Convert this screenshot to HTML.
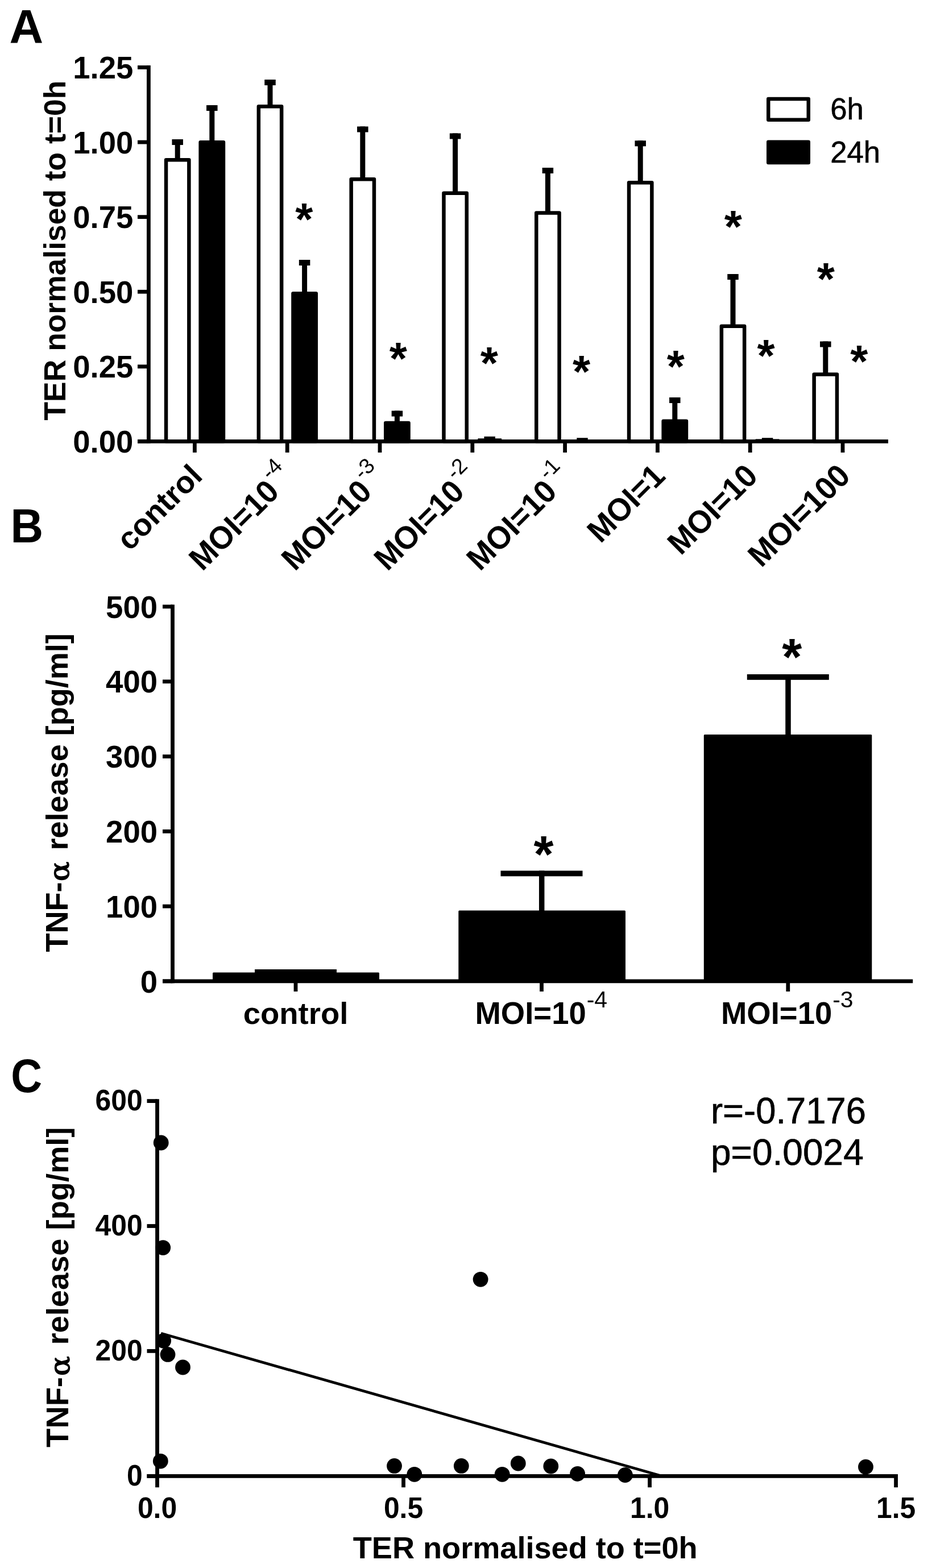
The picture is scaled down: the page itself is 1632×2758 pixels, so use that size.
<!DOCTYPE html>
<html lang="en">
<head>
<meta charset="utf-8">
<title>Figure: TER and TNF-alpha release</title>
<style>
html,body{margin:0;padding:0;background:#fff;}
body{width:1632px;height:2758px;overflow:hidden;}
svg{display:block;}
svg text{font-family:"Liberation Sans", sans-serif;fill:#000;}
</style>
</head>
<body>
<svg width="1632" height="2758" viewBox="0 0 1632 2758" role="img" aria-label="Three-panel figure: TER bar chart, TNF-alpha release bar chart, and correlation scatter plot">
<rect x="0" y="0" width="1632" height="2758" fill="#fff"/>
<text x="16.60" y="76.20" font-size="82.6" font-weight="bold" text-anchor="start">A</text>
<text x="0" y="0" transform="translate(115.30 440.60) rotate(-90) scale(0.98 1)" font-size="54.5" font-weight="bold" text-anchor="middle">TER normalised to t=0h</text>
<line x1="242.00" y1="776.30" x2="261.40" y2="776.30" stroke="#000" stroke-width="6.8" stroke-linecap="butt"/>
<text x="0" y="0" transform="translate(234.30 795.90) scale(1 1.03)" font-size="54.5" font-weight="bold" text-anchor="end">0.00</text>
<line x1="242.00" y1="644.74" x2="261.40" y2="644.74" stroke="#000" stroke-width="6.8" stroke-linecap="butt"/>
<text x="0" y="0" transform="translate(234.30 664.34) scale(1 1.03)" font-size="54.5" font-weight="bold" text-anchor="end">0.25</text>
<line x1="242.00" y1="513.18" x2="261.40" y2="513.18" stroke="#000" stroke-width="6.8" stroke-linecap="butt"/>
<text x="0" y="0" transform="translate(234.30 532.78) scale(1 1.03)" font-size="54.5" font-weight="bold" text-anchor="end">0.50</text>
<line x1="242.00" y1="381.62" x2="261.40" y2="381.62" stroke="#000" stroke-width="6.8" stroke-linecap="butt"/>
<text x="0" y="0" transform="translate(234.30 401.22) scale(1 1.03)" font-size="54.5" font-weight="bold" text-anchor="end">0.75</text>
<line x1="242.00" y1="250.06" x2="261.40" y2="250.06" stroke="#000" stroke-width="6.8" stroke-linecap="butt"/>
<text x="0" y="0" transform="translate(234.30 269.66) scale(1 1.03)" font-size="54.5" font-weight="bold" text-anchor="end">1.00</text>
<line x1="242.00" y1="118.50" x2="261.40" y2="118.50" stroke="#000" stroke-width="6.8" stroke-linecap="butt"/>
<text x="0" y="0" transform="translate(234.30 138.10) scale(1 1.03)" font-size="54.5" font-weight="bold" text-anchor="end">1.25</text>
<rect x="302.45" y="245.00" width="19.50" height="10.00" fill="#000"/>
<rect x="307.70" y="245.00" width="9.00" height="34.00" fill="#000"/>
<rect x="292.05" y="281.25" width="40.30" height="495.05" fill="#fff" stroke="#000" stroke-width="6.5" stroke-linejoin="round"/>
<rect x="363.05" y="185.00" width="19.50" height="10.00" fill="#000"/>
<rect x="368.30" y="185.00" width="9.00" height="63.00" fill="#000"/>
<rect x="352.65" y="250.25" width="40.30" height="526.05" fill="#000" stroke="#000" stroke-width="6.5" stroke-linejoin="round"/>
<rect x="465.25" y="140.00" width="19.50" height="10.00" fill="#000"/>
<rect x="470.50" y="140.00" width="9.00" height="45.00" fill="#000"/>
<rect x="454.85" y="187.25" width="40.30" height="589.05" fill="#fff" stroke="#000" stroke-width="6.5" stroke-linejoin="round"/>
<rect x="525.85" y="457.00" width="19.50" height="10.00" fill="#000"/>
<rect x="531.10" y="457.00" width="9.00" height="57.00" fill="#000"/>
<rect x="515.45" y="516.25" width="40.30" height="260.05" fill="#000" stroke="#000" stroke-width="6.5" stroke-linejoin="round"/>
<rect x="628.05" y="222.50" width="19.50" height="10.00" fill="#000"/>
<rect x="633.30" y="222.50" width="9.00" height="90.50" fill="#000"/>
<rect x="617.65" y="315.25" width="40.30" height="461.05" fill="#fff" stroke="#000" stroke-width="6.5" stroke-linejoin="round"/>
<rect x="688.65" y="722.50" width="19.50" height="10.00" fill="#000"/>
<rect x="693.90" y="722.50" width="9.00" height="19.30" fill="#000"/>
<rect x="678.25" y="744.05" width="40.30" height="32.25" fill="#000" stroke="#000" stroke-width="6.5" stroke-linejoin="round"/>
<rect x="790.85" y="234.50" width="19.50" height="10.00" fill="#000"/>
<rect x="796.10" y="234.50" width="9.00" height="103.00" fill="#000"/>
<rect x="780.45" y="339.75" width="40.30" height="436.55" fill="#fff" stroke="#000" stroke-width="6.5" stroke-linejoin="round"/>
<rect x="840.30" y="771.20" width="41.80" height="5.10" fill="#000"/>
<rect x="851.45" y="767.80" width="19.50" height="8.50" fill="#000"/>
<rect x="953.65" y="295.00" width="19.50" height="10.00" fill="#000"/>
<rect x="958.90" y="295.00" width="9.00" height="77.30" fill="#000"/>
<rect x="943.25" y="374.55" width="40.30" height="401.75" fill="#fff" stroke="#000" stroke-width="6.5" stroke-linejoin="round"/>
<rect x="1014.25" y="770.20" width="19.50" height="6.10" fill="#000"/>
<rect x="1116.45" y="247.30" width="19.50" height="10.00" fill="#000"/>
<rect x="1121.70" y="247.30" width="9.00" height="71.70" fill="#000"/>
<rect x="1106.05" y="321.25" width="40.30" height="455.05" fill="#fff" stroke="#000" stroke-width="6.5" stroke-linejoin="round"/>
<rect x="1177.05" y="699.00" width="19.50" height="10.00" fill="#000"/>
<rect x="1182.30" y="699.00" width="9.00" height="39.50" fill="#000"/>
<rect x="1166.65" y="740.75" width="40.30" height="35.55" fill="#000" stroke="#000" stroke-width="6.5" stroke-linejoin="round"/>
<rect x="1279.25" y="482.00" width="19.50" height="10.00" fill="#000"/>
<rect x="1284.50" y="482.00" width="9.00" height="89.50" fill="#000"/>
<rect x="1268.85" y="573.75" width="40.30" height="202.55" fill="#fff" stroke="#000" stroke-width="6.5" stroke-linejoin="round"/>
<rect x="1328.70" y="772.30" width="41.80" height="4.00" fill="#000"/>
<rect x="1339.85" y="770.20" width="19.50" height="6.10" fill="#000"/>
<rect x="1442.05" y="600.50" width="19.50" height="10.00" fill="#000"/>
<rect x="1447.30" y="600.50" width="9.00" height="55.80" fill="#000"/>
<rect x="1431.65" y="658.55" width="40.30" height="117.75" fill="#fff" stroke="#000" stroke-width="6.5" stroke-linejoin="round"/>
<line x1="261.40" y1="115.10" x2="261.40" y2="779.70" stroke="#000" stroke-width="6.8" stroke-linecap="butt"/>
<line x1="242.00" y1="776.30" x2="1562.00" y2="776.30" stroke="#000" stroke-width="6.8" stroke-linecap="butt"/>
<line x1="342.40" y1="776.30" x2="342.40" y2="796.00" stroke="#000" stroke-width="6.8" stroke-linecap="butt"/>
<line x1="505.20" y1="776.30" x2="505.20" y2="796.00" stroke="#000" stroke-width="6.8" stroke-linecap="butt"/>
<line x1="668.00" y1="776.30" x2="668.00" y2="796.00" stroke="#000" stroke-width="6.8" stroke-linecap="butt"/>
<line x1="830.80" y1="776.30" x2="830.80" y2="796.00" stroke="#000" stroke-width="6.8" stroke-linecap="butt"/>
<line x1="993.60" y1="776.30" x2="993.60" y2="796.00" stroke="#000" stroke-width="6.8" stroke-linecap="butt"/>
<line x1="1156.40" y1="776.30" x2="1156.40" y2="796.00" stroke="#000" stroke-width="6.8" stroke-linecap="butt"/>
<line x1="1319.20" y1="776.30" x2="1319.20" y2="796.00" stroke="#000" stroke-width="6.8" stroke-linecap="butt"/>
<line x1="1482.00" y1="776.30" x2="1482.00" y2="796.00" stroke="#000" stroke-width="6.8" stroke-linecap="butt"/>
<g transform="translate(358.70 840.20) rotate(-45)">
<text x="0" y="0" font-size="54.5" font-weight="bold" text-anchor="end" transform="scale(1 1)">control</text>
</g>
<g transform="translate(493.80 867.90) rotate(-45)">
<text x="0" y="0" font-size="54.5" font-weight="bold" text-anchor="end" transform="scale(1 1.03)">MOI=10</text>
<text x="2.3" y="-29.3" font-size="38" font-weight="normal" text-anchor="start">-4</text>
</g>
<g transform="translate(656.60 867.90) rotate(-45)">
<text x="0" y="0" font-size="54.5" font-weight="bold" text-anchor="end" transform="scale(1 1.03)">MOI=10</text>
<text x="2.3" y="-29.3" font-size="38" font-weight="normal" text-anchor="start">-3</text>
</g>
<g transform="translate(819.40 867.90) rotate(-45)">
<text x="0" y="0" font-size="54.5" font-weight="bold" text-anchor="end" transform="scale(1 1.03)">MOI=10</text>
<text x="2.3" y="-29.3" font-size="38" font-weight="normal" text-anchor="start">-2</text>
</g>
<g transform="translate(982.20 867.90) rotate(-45)">
<text x="0" y="0" font-size="54.5" font-weight="bold" text-anchor="end" transform="scale(1 1.03)">MOI=10</text>
<text x="2.3" y="-29.3" font-size="38" font-weight="normal" text-anchor="start">-1</text>
</g>
<g transform="translate(1172.70 840.20) rotate(-45)">
<text x="0" y="0" font-size="54.5" font-weight="bold" text-anchor="end" transform="scale(1 1.03)">MOI=1</text>
</g>
<g transform="translate(1335.50 840.20) rotate(-45)">
<text x="0" y="0" font-size="54.5" font-weight="bold" text-anchor="end" transform="scale(1 1.03)">MOI=10</text>
</g>
<g transform="translate(1498.30 840.20) rotate(-45)">
<text x="0" y="0" font-size="54.5" font-weight="bold" text-anchor="end" transform="scale(1 1.03)">MOI=100</text>
</g>
<text x="534.90" y="413.02" font-size="80" font-weight="bold" text-anchor="middle">*</text>
<text x="700.40" y="658.42" font-size="80" font-weight="bold" text-anchor="middle">*</text>
<text x="860.40" y="666.42" font-size="80" font-weight="bold" text-anchor="middle">*</text>
<text x="1022.50" y="680.52" font-size="80" font-weight="bold" text-anchor="middle">*</text>
<text x="1188.20" y="671.72" font-size="80" font-weight="bold" text-anchor="middle">*</text>
<text x="1289.40" y="426.32" font-size="80" font-weight="bold" text-anchor="middle">*</text>
<text x="1347.00" y="653.12" font-size="80" font-weight="bold" text-anchor="middle">*</text>
<text x="1452.40" y="518.32" font-size="80" font-weight="bold" text-anchor="middle">*</text>
<text x="1510.80" y="663.12" font-size="80" font-weight="bold" text-anchor="middle">*</text>
<rect x="1351.25" y="174.05" width="70.50" height="36.60" fill="#fff" stroke="#000" stroke-width="6.5" stroke-linejoin="round"/>
<rect x="1351.25" y="249.85" width="70.50" height="36.10" fill="#000" stroke="#000" stroke-width="6.5" stroke-linejoin="round"/>
<text x="0" y="0" transform="translate(1460.20 210.30) scale(0.985 1)" font-size="53.5" font-weight="normal" text-anchor="start" stroke="#000" stroke-width="0.6">6h</text>
<text x="0" y="0" transform="translate(1460.20 286.00) scale(0.985 1)" font-size="53.5" font-weight="normal" text-anchor="start" stroke="#000" stroke-width="0.6">24h</text>
<text x="0" y="0" transform="translate(18.60 954.00) scale(0.965 1)" font-size="82.6" font-weight="bold" text-anchor="start">B</text>
<g transform="translate(119.20 1674.60) rotate(-90)">
<text x="0" y="0" font-size="54.5" font-weight="bold" transform="scale(0.992 1.03)">TNF-</text>
<text x="0" y="0" font-size="51.2" font-weight="normal" stroke="#000" stroke-width="1.5" stroke-linejoin="round" transform="translate(124.50 1.6) scale(1 0.93)" style="font-family:'DejaVu Serif','Liberation Serif',serif">α</text>
<text x="0" y="0" font-size="54.5" font-weight="bold" transform="translate(179.00 0) scale(0.992 1)">release [pg/ml]</text>
</g>
<line x1="286.00" y1="1725.90" x2="303.50" y2="1725.90" stroke="#000" stroke-width="6.8" stroke-linecap="butt"/>
<text x="0" y="0" transform="translate(277.00 1745.50) scale(1 1.03)" font-size="54.5" font-weight="bold" text-anchor="end">0</text>
<line x1="286.00" y1="1594.12" x2="303.50" y2="1594.12" stroke="#000" stroke-width="6.8" stroke-linecap="butt"/>
<text x="0" y="0" transform="translate(277.00 1613.72) scale(1 1.03)" font-size="54.5" font-weight="bold" text-anchor="end">100</text>
<line x1="286.00" y1="1462.34" x2="303.50" y2="1462.34" stroke="#000" stroke-width="6.8" stroke-linecap="butt"/>
<text x="0" y="0" transform="translate(277.00 1481.94) scale(1 1.03)" font-size="54.5" font-weight="bold" text-anchor="end">200</text>
<line x1="286.00" y1="1330.56" x2="303.50" y2="1330.56" stroke="#000" stroke-width="6.8" stroke-linecap="butt"/>
<text x="0" y="0" transform="translate(277.00 1350.16) scale(1 1.03)" font-size="54.5" font-weight="bold" text-anchor="end">300</text>
<line x1="286.00" y1="1198.78" x2="303.50" y2="1198.78" stroke="#000" stroke-width="6.8" stroke-linecap="butt"/>
<text x="0" y="0" transform="translate(277.00 1218.38) scale(1 1.03)" font-size="54.5" font-weight="bold" text-anchor="end">400</text>
<line x1="286.00" y1="1067.00" x2="303.50" y2="1067.00" stroke="#000" stroke-width="6.8" stroke-linecap="butt"/>
<text x="0" y="0" transform="translate(277.00 1086.60) scale(1 1.03)" font-size="54.5" font-weight="bold" text-anchor="end">500</text>
<rect x="448.00" y="1705.00" width="144.00" height="9.80" fill="#000"/>
<rect x="515.45" y="1705.00" width="9.50" height="6.50" fill="#000"/>
<rect x="375.50" y="1712.00" width="290.00" height="13.90" fill="#000" stroke="#000" stroke-width="3" stroke-linejoin="round"/>
<line x1="520.00" y1="1725.90" x2="520.00" y2="1744.00" stroke="#000" stroke-width="6.8" stroke-linecap="butt"/>
<rect x="880.50" y="1531.50" width="144.00" height="9.80" fill="#000"/>
<rect x="947.95" y="1531.50" width="9.50" height="71.00" fill="#000"/>
<rect x="807.80" y="1603.00" width="290.70" height="122.90" fill="#000" stroke="#000" stroke-width="3" stroke-linejoin="round"/>
<line x1="952.50" y1="1725.90" x2="952.50" y2="1744.00" stroke="#000" stroke-width="6.8" stroke-linecap="butt"/>
<rect x="1313.80" y="1186.00" width="144.00" height="9.80" fill="#000"/>
<rect x="1381.25" y="1186.00" width="9.50" height="107.00" fill="#000"/>
<rect x="1239.30" y="1293.50" width="292.50" height="432.40" fill="#000" stroke="#000" stroke-width="3" stroke-linejoin="round"/>
<line x1="1385.80" y1="1725.90" x2="1385.80" y2="1744.00" stroke="#000" stroke-width="6.8" stroke-linecap="butt"/>
<line x1="303.50" y1="1063.60" x2="303.50" y2="1729.30" stroke="#000" stroke-width="6.8" stroke-linecap="butt"/>
<line x1="286.00" y1="1725.90" x2="1605.30" y2="1725.90" stroke="#000" stroke-width="6.8" stroke-linecap="butt"/>
<text x="520.00" y="1800.50" font-size="54.5" font-weight="bold" text-anchor="middle">control</text>
<g transform="translate(1030.80 1800.60) rotate(0)">
<text x="0" y="0" font-size="54.5" font-weight="bold" text-anchor="end" transform="scale(1 1.03)">MOI=10</text>
<text x="0.9" y="-29.0" font-size="41" font-weight="normal" text-anchor="start">-4</text>
</g>
<g transform="translate(1463.30 1800.60) rotate(0)">
<text x="0" y="0" font-size="54.5" font-weight="bold" text-anchor="end" transform="scale(1 1.03)">MOI=10</text>
<text x="0.9" y="-29.0" font-size="41" font-weight="normal" text-anchor="start">-3</text>
</g>
<text x="956.00" y="1534.31" font-size="90" font-weight="bold" text-anchor="middle">*</text>
<text x="1392.70" y="1187.31" font-size="90" font-weight="bold" text-anchor="middle">*</text>
<text x="0" y="0" transform="translate(19.30 1920.50) scale(0.92 1)" font-size="82.6" font-weight="bold" text-anchor="start">C</text>
<g transform="translate(120.20 2545.70) rotate(-90)">
<text x="0" y="0" font-size="54.5" font-weight="bold" transform="scale(0.996 1.03)">TNF-</text>
<text x="0" y="0" font-size="51.2" font-weight="normal" stroke="#000" stroke-width="1.5" stroke-linejoin="round" transform="translate(125.60 1.6) scale(1 0.93)" style="font-family:'DejaVu Serif','Liberation Serif',serif">α</text>
<text x="0" y="0" font-size="54.5" font-weight="bold" transform="translate(180.10 0) scale(0.996 1)">release [pg/ml]</text>
</g>
<line x1="258.50" y1="2596.30" x2="276.50" y2="2596.30" stroke="#000" stroke-width="6.8" stroke-linecap="butt"/>
<text x="0" y="0" transform="translate(250.60 2613.10) scale(1 1.03)" font-size="49.8" font-weight="bold" text-anchor="end">0</text>
<line x1="258.50" y1="2376.40" x2="276.50" y2="2376.40" stroke="#000" stroke-width="6.8" stroke-linecap="butt"/>
<text x="0" y="0" transform="translate(250.60 2393.20) scale(1 1.03)" font-size="49.8" font-weight="bold" text-anchor="end">200</text>
<line x1="258.50" y1="2156.50" x2="276.50" y2="2156.50" stroke="#000" stroke-width="6.8" stroke-linecap="butt"/>
<text x="0" y="0" transform="translate(250.60 2173.30) scale(1 1.03)" font-size="49.8" font-weight="bold" text-anchor="end">400</text>
<line x1="258.50" y1="1936.60" x2="276.50" y2="1936.60" stroke="#000" stroke-width="6.8" stroke-linecap="butt"/>
<text x="0" y="0" transform="translate(250.60 1953.40) scale(1 1.03)" font-size="49.8" font-weight="bold" text-anchor="end">600</text>
<line x1="276.50" y1="2596.30" x2="276.50" y2="2616.20" stroke="#000" stroke-width="6.8" stroke-linecap="butt"/>
<text x="0" y="0" transform="translate(276.50 2669.60) scale(1 1.03)" font-size="49.8" font-weight="bold" text-anchor="middle">0.0</text>
<line x1="709.53" y1="2596.30" x2="709.53" y2="2616.20" stroke="#000" stroke-width="6.8" stroke-linecap="butt"/>
<text x="0" y="0" transform="translate(709.53 2669.60) scale(1 1.03)" font-size="49.8" font-weight="bold" text-anchor="middle">0.5</text>
<line x1="1142.57" y1="2596.30" x2="1142.57" y2="2616.20" stroke="#000" stroke-width="6.8" stroke-linecap="butt"/>
<text x="0" y="0" transform="translate(1142.57 2669.60) scale(1 1.03)" font-size="49.8" font-weight="bold" text-anchor="middle">1.0</text>
<line x1="1575.60" y1="2596.30" x2="1575.60" y2="2616.20" stroke="#000" stroke-width="6.8" stroke-linecap="butt"/>
<text x="0" y="0" transform="translate(1575.60 2669.60) scale(1 1.03)" font-size="49.8" font-weight="bold" text-anchor="middle">1.5</text>
<line x1="276.50" y1="1933.20" x2="276.50" y2="2599.70" stroke="#000" stroke-width="6.8" stroke-linecap="butt"/>
<line x1="258.50" y1="2596.30" x2="1579.00" y2="2596.30" stroke="#000" stroke-width="6.8" stroke-linecap="butt"/>
<text x="0" y="0" transform="translate(923.70 2741.20) scale(0.9932 1)" font-size="54.5" font-weight="bold" text-anchor="middle">TER normalised to t=0h</text>
<line x1="283.20" y1="2345.30" x2="1160.40" y2="2595.30" stroke="#000" stroke-width="4.8" stroke-linecap="butt"/>
<circle cx="283.20" cy="2010.00" r="13.4" fill="#000"/>
<circle cx="286.70" cy="2194.60" r="13.4" fill="#000"/>
<circle cx="287.60" cy="2358.30" r="13.4" fill="#000"/>
<circle cx="295.00" cy="2382.40" r="13.4" fill="#000"/>
<circle cx="321.50" cy="2405.00" r="13.4" fill="#000"/>
<circle cx="282.30" cy="2570.10" r="13.4" fill="#000"/>
<circle cx="693.50" cy="2578.40" r="13.4" fill="#000"/>
<circle cx="728.80" cy="2593.30" r="13.4" fill="#000"/>
<circle cx="811.30" cy="2578.40" r="13.4" fill="#000"/>
<circle cx="883.20" cy="2593.30" r="13.4" fill="#000"/>
<circle cx="911.30" cy="2574.00" r="13.4" fill="#000"/>
<circle cx="968.80" cy="2579.00" r="13.4" fill="#000"/>
<circle cx="1015.60" cy="2592.30" r="13.4" fill="#000"/>
<circle cx="1099.40" cy="2594.50" r="13.4" fill="#000"/>
<circle cx="1522.50" cy="2580.20" r="13.4" fill="#000"/>
<circle cx="845.10" cy="2250.30" r="13.4" fill="#000"/>
<text x="0" y="0" transform="translate(1250.00 1976.00) scale(0.99 1)" font-size="64" font-weight="normal" text-anchor="start" stroke="#000" stroke-width="0.7">r=-0.7176</text>
<text x="1250.00" y="2048.50" font-size="64" font-weight="normal" text-anchor="start" stroke="#000" stroke-width="0.7">p=0.0024</text>
</svg>
</body>
</html>
